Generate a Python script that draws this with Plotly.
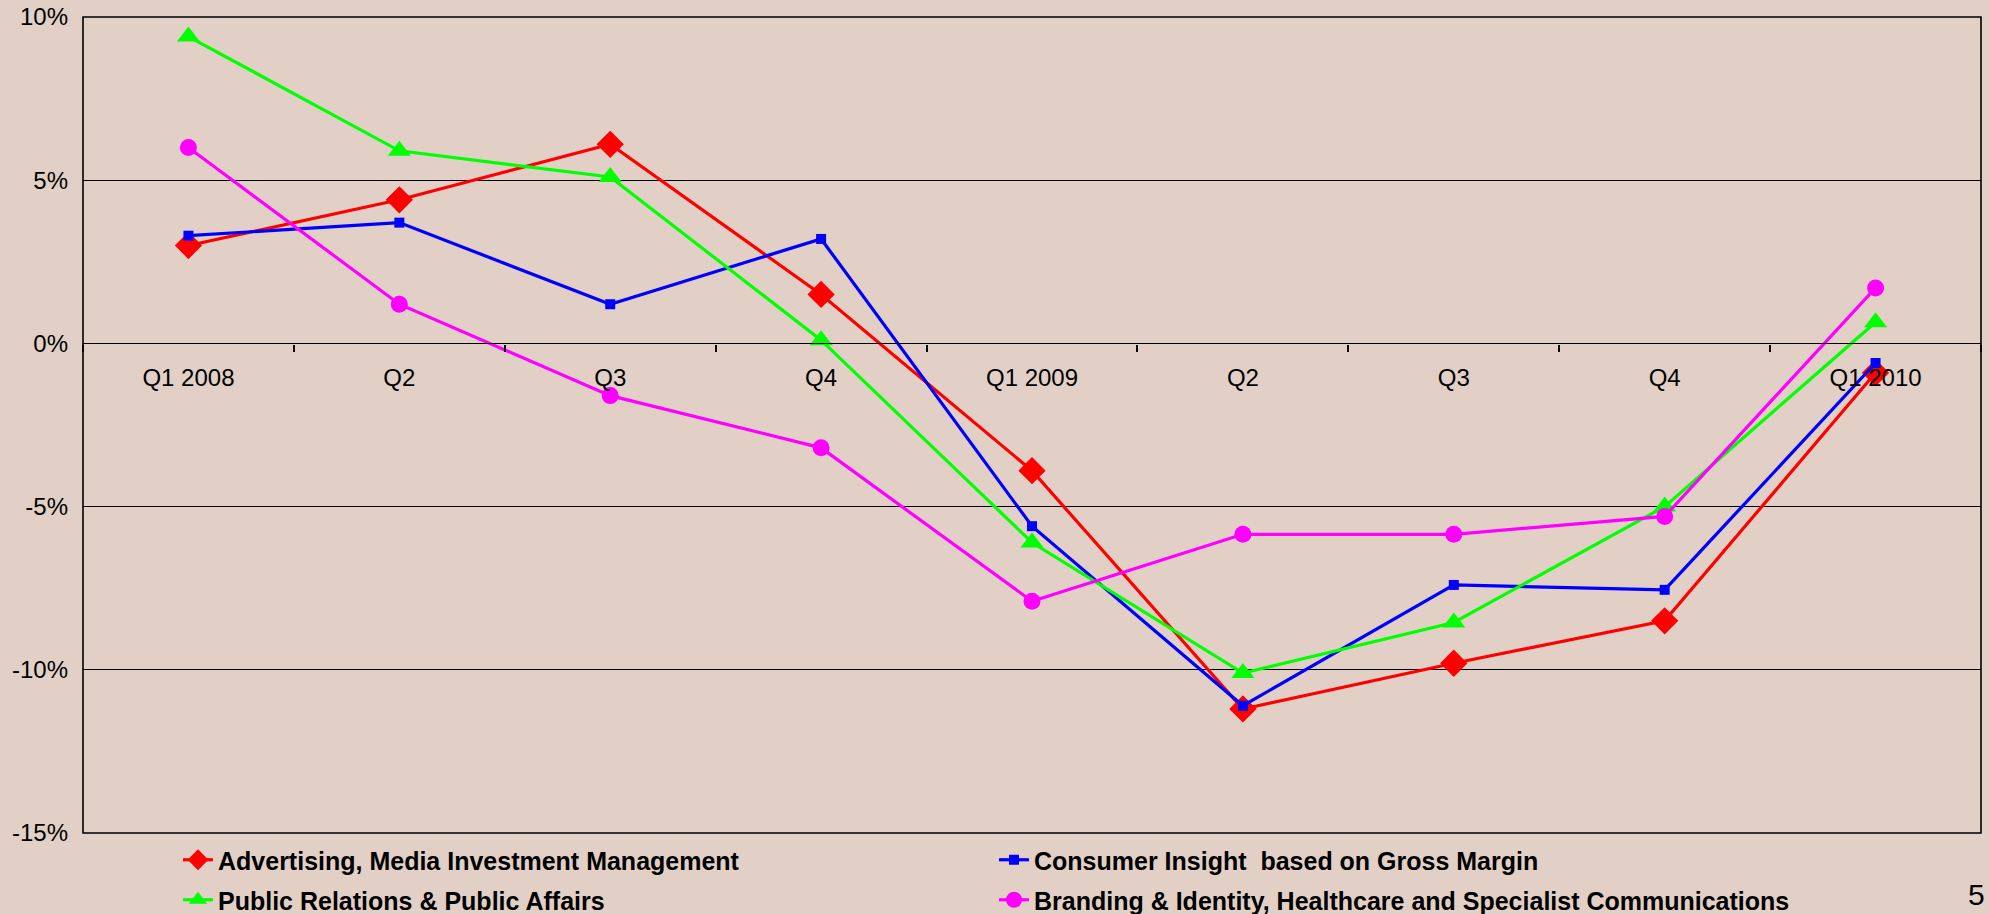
import plotly.graph_objects as go

quarters = ["Q1 2008", "Q2", "Q3", "Q4", "Q1 2009", "Q2", "Q3", "Q4", "Q1 2010"]
advertising = [3.0, 4.4, 6.1, 1.5, -3.9, -11.2, -9.8, -8.5, -0.9]
consumer_insight = [3.3, 3.7, 1.2, 3.2, -5.6, -11.1, -7.4, -7.55, -0.6]
public_relations = [9.4, 5.9, 5.1, 0.1, -6.1, -10.1, -8.55, -5.0, 0.65]
branding = [6.0, 1.2, -1.6, -3.2, -7.9, -5.85, -5.85, -5.3, 1.7]
y_ticks = [-15, -10, -5, 0, 5, 10]
y_ticklabels = ["-15%", "-10%", "-5%", "0%", "5%", "10%"]

xpos = list(range(len(quarters)))
BG = "#E2D0C6"
FONT = "Arial, Liberation Sans, sans-serif"
W, H = 1989, 914
ML, MR, MT, MB = 83, 8, 17, 81
PW, PH = W - ML - MR, H - MT - MB

fig = go.Figure()
series = [
    ("Advertising, Media Investment Management", advertising, "#FF0000", "diamond", 21, "legend"),
    ("Consumer Insight  based on Gross Margin", consumer_insight, "#0000FF", "square", 10, "legend"),
    ("Public Relations & Public Affairs", public_relations, "#00FF00", "triangle-up", 20, "legend2"),
    ("Branding & Identity, Healthcare and Specialist Communications", branding, "#FF00FF", "circle", 17, "legend2"),
]
for name, vals, col, sym, size, lg in series:
    fig.add_trace(go.Scatter(
        x=xpos, y=vals, name=name, mode="lines+markers",
        line=dict(color=col, width=3.2),
        marker=dict(symbol=sym, size=size, color=col, line=dict(width=0)),
        legend=lg, cliponaxis=False,
    ))

legend_common = dict(
    orientation="h", xref="container", yref="container",
    x=178 / W, xanchor="left", yanchor="middle",
    entrywidth=771, entrywidthmode="pixels", bgcolor="rgba(0,0,0,0)",
    font=dict(family=FONT, size=25, color="#000000", weight="bold"),
)

fig.update_layout(
    width=W, height=H,
    margin=dict(l=ML, r=MR, t=MT, b=MB, autoexpand=False),
    paper_bgcolor=BG, plot_bgcolor=BG,
    font=dict(family=FONT, color="#000000", size=24),
    showlegend=True,
    xaxis=dict(
        range=[-0.5, 8.5], tickvals=xpos, ticktext=quarters,
        anchor="free", position=0.6, showline=True, linecolor="#000000", linewidth=1.2,
        ticks="", showgrid=False, zeroline=False,
        tickfont=dict(family=FONT, size=24, color="#000000"),
        ticklabelstandoff=13,
        minor=dict(tick0=0.5, dtick=1, ticks="outside", ticklen=7, tickwidth=1.5,
                   tickcolor="#000000", showgrid=False),
    ),
    yaxis=dict(
        range=[-15, 10], tickvals=y_ticks, ticktext=y_ticklabels,
        showgrid=True, gridcolor="#000000", gridwidth=1.2, zeroline=False,
        showline=False, ticks="", ticklabelstandoff=14,
        tickfont=dict(family=FONT, size=24, color="#000000"),
    ),
    legend=dict(legend_common, y=1 - 860 / H),
    legend2=dict(legend_common, y=1 - 900 / H),
    shapes=[dict(type="rect", xref="x domain", yref="y domain", x0=0, x1=1, y0=0, y1=1,
                 line=dict(color="#000000", width=1.6), layer="above")],
    annotations=[dict(text="5", xref="paper", yref="paper",
                      x=(1966 - ML) / PW, y=(H - MB - 913) / PH,
                      xanchor="left", yanchor="bottom", showarrow=False,
                      font=dict(family=FONT, size=30, color="#000000"))],
)

fig.write_html("out.html")
